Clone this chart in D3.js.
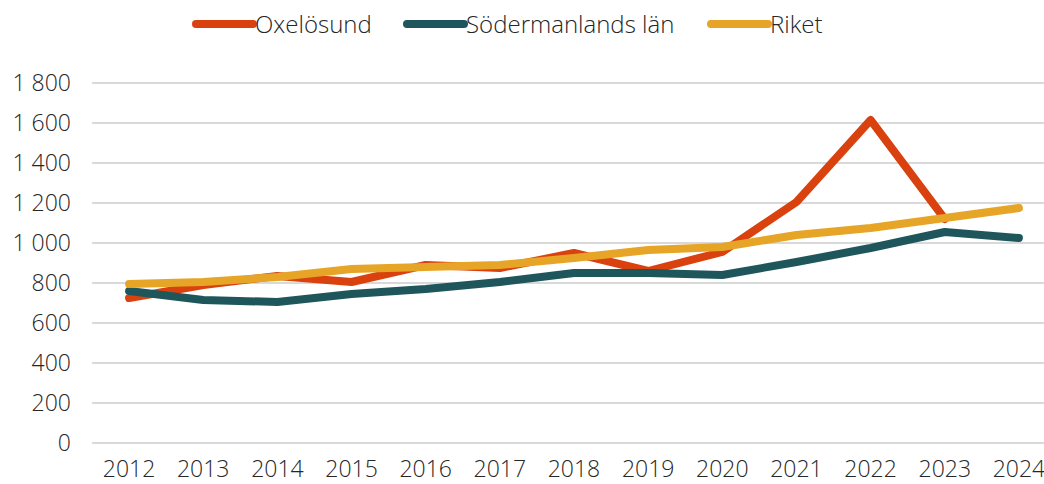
<!DOCTYPE html>
<html>
<head>
<meta charset="utf-8">
<script src="https://cdn.jsdelivr.net/npm/d3@7"></script>
<style>
  body { margin: 0; background: #fff; }
  text { font-family: "Open Sans", "Lato", sans-serif; font-weight: 300; fill: #262626; }
</style>
</head>
<body>
<div id="chart"></div>
<script>
// Data
const years = ["2012", "2013", "2014", "2015", "2016", "2017", "2018", "2019", "2020", "2021", "2022", "2023", "2024"];
const oxelosund = [725, 790, 835, 805, 890, 875, 950, 860, 955, 1205, 1615, 1120, null];
const sodermanland = [760, 715, 705, 745, 770, 805, 850, 850, 840, 905, 975, 1055, 1025];
const riket = [795, 805, 830, 870, 880, 890, 925, 965, 980, 1040, 1075, 1125, 1175];
const yTicks = [0, 200, 400, 600, 800, 1000, 1200, 1400, 1600, 1800];

const seriesNames = ["Oxelösund", "Södermanlands län", "Riket"];
const seriesColors = ["#d9410e", "#1f565c", "#e6a526"];
const seriesValues = [oxelosund, sodermanland, riket];

const width = 1044, height = 484;
const margin = { top: 83, bottom: 41, left: 92 };
const plotRight = 1056; // plot area runs a bit past the cropped edge

const svg = d3.select("#chart").append("svg")
    .attr("width", width)
    .attr("height", height);

const x = d3.scaleBand()
    .domain(years)
    .range([margin.left, plotRight]);

const y = d3.scaleLinear()
    .domain([0, 1800])
    .range([height - margin.bottom, margin.top]);

// gridlines
svg.append("g")
    .selectAll("line")
    .data(yTicks)
    .join("line")
    .attr("x1", margin.left)
    .attr("x2", width)
    .attr("y1", d => y(d))
    .attr("y2", d => y(d))
    .attr("stroke", "#d9d9d9")
    .attr("stroke-width", 2);

// y axis labels
const fmt = d => d3.format(",")(d).replace(/,/g, " ");
svg.append("g")
    .selectAll("text")
    .data(yTicks)
    .join("text")
    .attr("x", 71)
    .attr("y", d => y(d))
    .attr("dy", "0.36em")
    .attr("text-anchor", "end")
    .style("font-size", "23px")
    .text(fmt);

// x axis labels
svg.append("g")
    .selectAll("text")
    .data(years)
    .join("text")
    .attr("x", d => x(d) + x.bandwidth() / 2)
    .attr("y", 477)
    .attr("text-anchor", "middle")
    .style("font-size", "23px")
    .text(d => d);

// lines
const line = d3.line()
    .defined(d => d.v != null)
    .x(d => x(d.year) + x.bandwidth() / 2)
    .y(d => y(d.v));

seriesValues.forEach((vals, i) => {
    svg.append("path")
        .datum(years.map((yr, j) => ({ year: yr, v: vals[j] })))
        .attr("d", line)
        .attr("fill", "none")
        .attr("stroke", seriesColors[i])
        .attr("stroke-width", 8)
        .attr("stroke-linejoin", "round")
        .attr("stroke-linecap", "round");
});

// legend
const legendX = [196, 407, 711];
const legend = svg.append("g");
seriesNames.forEach((name, i) => {
    legend.append("line")
        .attr("x1", legendX[i])
        .attr("x2", legendX[i] + 57)
        .attr("y1", 24)
        .attr("y2", 24)
        .attr("stroke", seriesColors[i])
        .attr("stroke-width", 8)
        .attr("stroke-linecap", "round");
    legend.append("text")
        .attr("x", legendX[i] + 59)
        .attr("y", 24)
        .attr("dy", "0.36em")
        .style("font-size", "24px")
        .text(name);
});
</script>
</body>
</html>
